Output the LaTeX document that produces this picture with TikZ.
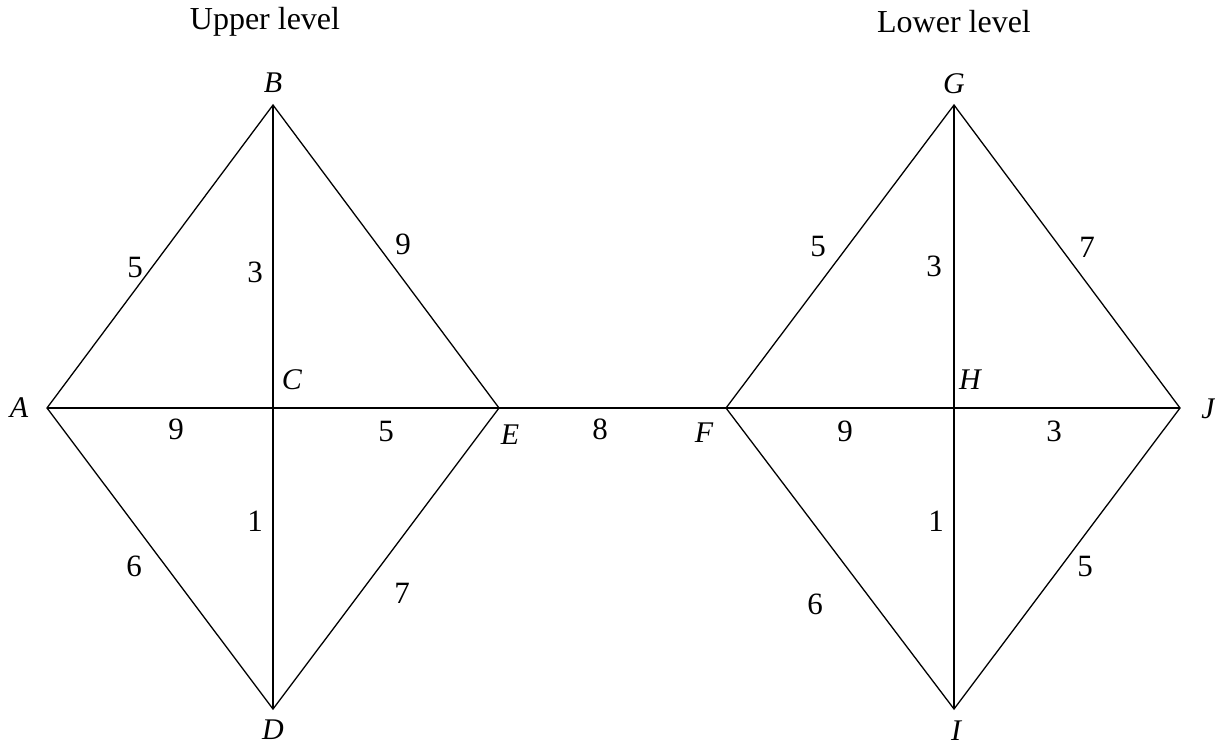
\documentclass[tikz,border=0pt]{standalone}
\usepackage{fontspec}
\setmainfont{Liberation Serif}
\begin{document}
\begin{tikzpicture}[x=1pt,y=-1pt,
  edge/.style={line width=1.3pt},
  vtx/.style={inner sep=0pt,font=\fontsize{30}{34}\selectfont\itshape},
  wt/.style={inner sep=0pt,font=\fontsize{31}{34}\selectfont},
  ttl/.style={inner sep=0pt,font=\fontsize{32}{36}\selectfont}]
\useasboundingbox (0,0) rectangle (1215,746);
% vertices
\coordinate (A) at (47,408);
\coordinate (B) at (273,105);
\coordinate (C) at (273,408);
\coordinate (D) at (273,709);
\coordinate (E) at (499,408);
\coordinate (F) at (726,408);
\coordinate (G) at (954,105);
\coordinate (H) at (954,408);
\coordinate (I) at (954,709);
\coordinate (J) at (1180,408);
% edges
\draw[edge] (A) -- (B) -- (E) -- (D) -- cycle;
\draw[edge] (B) -- (C) -- (D);
\draw[edge] (A) -- (C) -- (E);
\draw[edge] (E) -- (F);
\draw[edge] (F) -- (G) -- (J) -- (I) -- cycle;
\draw[edge] (G) -- (H) -- (I);
\draw[edge] (F) -- (H) -- (J);
% titles
\node[ttl] (t1) at (265,22) {Upper level};
\node[ttl] (t2) at (954,22) {Lower level};
% vertex labels
\node[vtx] (lA) at (19,408) {A};
\node[vtx] (lB) at (273,83) {B};
\node[vtx] (lC) at (292,380) {C};
\node[vtx] (lD) at (273,730) {D};
\node[vtx] (lE) at (510,435) {E};
\node[vtx] (lF) at (704,433) {F};
\node[vtx] (lG) at (954,84) {G};
\node[vtx] (lH) at (970,380) {H};
\node[vtx] (lI) at (956,731) {I};
\node[vtx] (lJ) at (1208,409) {J};
% weights
\node[wt] (wAB) at (135,268) {5};
\node[wt] (wBC) at (255,272) {3};
\node[wt] (wBE) at (403,244) {9};
\node[wt] (wAC) at (176,429) {9};
\node[wt] (wCE) at (386,431) {5};
\node[wt] (wCD) at (255,521) {1};
\node[wt] (wAD) at (134,566) {6};
\node[wt] (wDE) at (402,593) {7};
\node[wt] (wEF) at (600,429) {8};
\node[wt] (wFG) at (818,247) {5};
\node[wt] (wGH) at (934,266) {3};
\node[wt] (wGJ) at (1087,247) {7};
\node[wt] (wFH) at (845,431) {9};
\node[wt] (wHJ) at (1054,431) {3};
\node[wt] (wHI) at (936,521) {1};
\node[wt] (wFI) at (815,604) {6};
\node[wt] (wIJ) at (1085,566) {5};
\end{tikzpicture}
\end{document}
